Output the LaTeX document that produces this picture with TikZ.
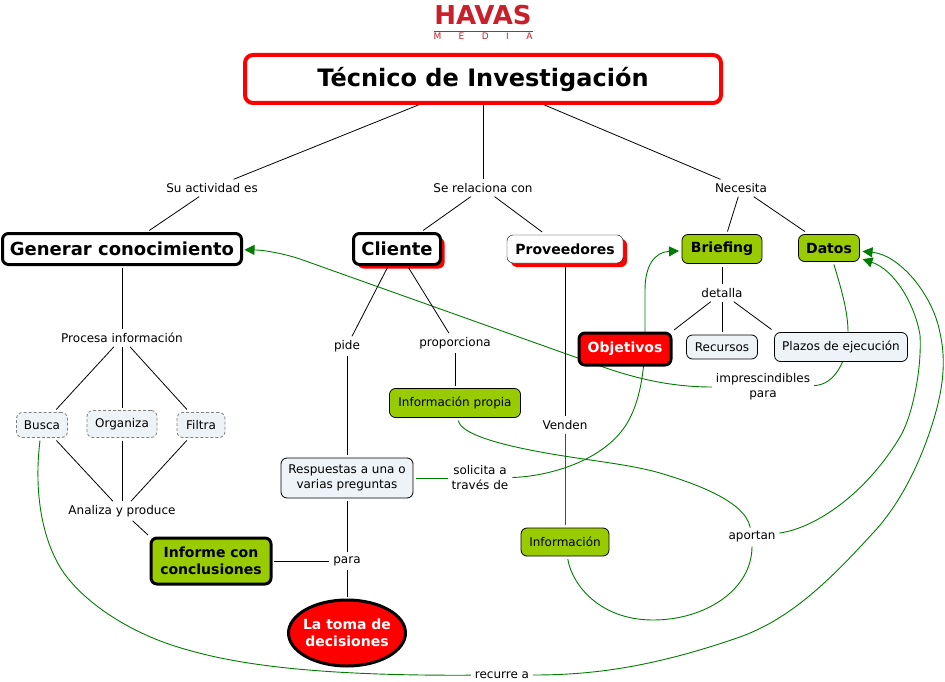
\documentclass[tikz,border=0pt]{standalone}
\usepackage{fontspec}
\setmainfont{DejaVu Sans}
\usetikzlibrary{arrows.meta,shapes.geometric,positioning,shadows,backgrounds}
\definecolor{limefill}{RGB}{153,204,0}
\definecolor{paleblue}{RGB}{238,243,247}
\definecolor{linkgreen}{RGB}{0,125,0}
\definecolor{logored}{RGB}{200,32,42}

\begin{document}
\begin{tikzpicture}[x=1pt, y=-1pt, on grid, >={Triangle[length=10pt,width=10pt]},
    box/.style={rectangle, draw=black, rounded corners=6pt, align=center, inner sep=0pt, outer sep=3pt, font=\fontsize{14}{17}\selectfont\bfseries},
    rootbox/.style={box, draw=red, line width=4pt, rounded corners=8pt, minimum width=476pt, minimum height=48pt, outer sep=2pt, font=\fontsize{24}{28}\selectfont\bfseries},
    heavybox/.style={box, line width=3pt, font=\fontsize{18}{22}\selectfont\bfseries},
    redshadow/.style={drop shadow={fill=red, opacity=1, shadow xshift=4pt, shadow yshift=-4pt}},
    limebox/.style={box, fill=limefill, line width=0.8pt},
    lightbox/.style={box, fill=paleblue, line width=0.8pt, font=\fontsize{12}{15}\selectfont},
    dashbox/.style={lightbox, dash pattern=on 3pt off 2pt, draw=black!50},
    linklabel/.style={inner sep=1pt, outer sep=3pt, align=center, font=\fontsize{12}{15}\selectfont},
    line/.style={draw, line width=0.8pt},
    greenline/.style={draw=linkgreen, line width=0.9pt}]

    \useasboundingbox (0,0) rectangle (945,682);

    % Logo
    \node [text=logored, align=center, inner sep=0pt] (logo) at (483,22) {{\fontsize{26}{24}\selectfont\bfseries HAVAS}\\[-5pt]\rule{99pt}{0.6pt}\\[-4pt]\makebox[99pt][s]{\fontsize{9}{9}\selectfont M\hfil E\hfil D\hfil I\hfil A}};

    % Top Level
    \node [rootbox] (root) at (483,79) {Técnico de Investigación};
    \node [linklabel, below left=109pt and 271pt of root] (suactividad) {Su actividad es};
    \node [linklabel, below=109pt of root] (serelaciona) {Se relaciona con};
    \node [linklabel, below right=109pt and 258pt of root] (necesita) {Necesita};

    % Second Row
    \node [heavybox, minimum width=239pt, minimum height=31pt, below left=61pt and 90pt of suactividad] (generar) {Generar conocimiento};
    \node [heavybox, fill=white, redshadow, minimum width=87pt, minimum height=31pt, below left=61pt and 86pt of serelaciona] (cliente) {Cliente};
    \node [box, fill=white, redshadow, minimum width=116pt, minimum height=28pt, below right=61pt and 82pt of serelaciona] (proveedores) {Proveedores};
    \node [limebox, minimum width=80pt, minimum height=29pt, below left=61pt and 19pt of necesita] (briefing) {Briefing};
    \node [limebox, minimum width=61pt, minimum height=27pt, below right=60pt and 88pt of necesita] (datos) {Datos};

    % Briefing Branch
    \node [linklabel, below=44pt of briefing] (detalla) {detalla};
    \node [box, fill=red, text=white, line width=3pt, minimum width=92pt, minimum height=32pt, below left=56pt and 97pt of detalla] (objetivos) {Objetivos};
    \node [lightbox, minimum width=71pt, minimum height=24pt, below=54pt of detalla] (recursos) {Recursos};
    \node [lightbox, minimum width=133pt, minimum height=29pt, below right=54pt and 119pt of detalla] (plazos) {Plazos de ejecución};
    \node [linklabel, below left=40pt and 78pt of plazos] (imprescindibles) {imprescindibles\\para};

    % Generar Branch
    \node [linklabel, below=89pt of generar] (procesa) {Procesa información};
    \node [dashbox, minimum width=51pt, minimum height=25pt, below left=87pt and 80pt of procesa] (busca) {Busca};
    \node [dashbox, minimum width=70pt, minimum height=27pt, below=86pt of procesa] (organiza) {Organiza};
    \node [dashbox, minimum width=48pt, minimum height=25pt, below right=87pt and 79pt of procesa] (filtra) {Filtra};
    \node [linklabel, below=87pt of organiza] (analiza) {Analiza y produce};
    \node [heavybox, fill=limefill, minimum width=120pt, minimum height=46pt, below right=50pt and 89pt of analiza, font=\fontsize{14}{17}\selectfont\bfseries] (informe) {Informe con\\conclusiones};

    % Cliente Branch
    \node [linklabel, right=136pt of informe] (para) {para};
    \node [ellipse, draw=black, fill=red, text=white, line width=3pt, align=center, inner ysep=0pt, inner xsep=-4pt, outer sep=3pt, minimum width=117pt, minimum height=66pt, below=72pt of para, font=\fontsize{14}{17}\selectfont\bfseries] (toma) {La toma de\\decisiones};
    \node [lightbox, minimum width=132pt, minimum height=40pt, above=83pt of para] (respuestas) {Respuestas a una o\\varias preguntas};
    \node [linklabel, above=132pt of respuestas] (pide) {pide};
    \node [linklabel, below right=94pt and 58pt of cliente] (proporciona) {proporciona};
    \node [limebox, minimum width=131pt, minimum height=29pt, below=60pt of proporciona, font=\fontsize{12}{15}\selectfont] (infopropia) {Información propia};
    \node [linklabel, right=133pt of respuestas] (solicita) {solicita a\\través de};

    % Proveedores Branch
    \node [linklabel, below=176pt of proveedores] (venden) {Venden};
    \node [limebox, minimum width=88pt, minimum height=28pt, below=117pt of venden, font=\fontsize{12}{15}\selectfont] (informacion) {Información};
    \node [linklabel, below left=190pt and 89pt of plazos] (aportan) {aportan};
    \node [linklabel, below right=114pt and 155pt of para] (recurre) {recurre a};

    % Paths
    \path [line] (root) -- (suactividad);
    \path [line] (root) -- (serelaciona);
    \path [line] (root) -- (necesita);
    \path [line] (suactividad) -- (generar);
    \path [line] (serelaciona) -- (cliente);
    \path [line] (serelaciona) -- (proveedores);
    \path [line] (necesita) -- (briefing);
    \path [line] (necesita) -- (datos);
    \path [line] (briefing) -- (detalla);
    \path [line] (detalla) -- (objetivos.north east);
    \path [line] (detalla) -- (recursos);
    \path [line] (detalla) -- (plazos.north west);
    \path [line] (generar) -- (procesa);
    \path [line] (procesa) -- (busca);
    \path [line] (procesa) -- (organiza);
    \path [line] (procesa) -- (filtra);
    \path [line] (busca) -- (analiza);
    \path [line] (organiza) -- (analiza);
    \path [line] (filtra) -- (analiza);
    \path [line] (analiza) -- (informe.north west);
    \path [line] (cliente) -- (pide);
    \path [line] (cliente) -- (proporciona);
    \path [line] (pide) -- (respuestas);
    \path [line] (proporciona) -- (infopropia);
    \path [line] (respuestas) -- (para);
    \path [line] (informe) -- (para);
    \path [line] (para) -- (toma);
    \path [line] (proveedores) -- (venden);

    % Green Links
    \begin{scope}[on background layer]
    \path [greenline] (venden) -- (informacion);
    \path [greenline] (respuestas) -- (solicita);
    \path [greenline, ->] (solicita) .. controls (540,477) and (600,465) .. (626,425) .. controls (640,403) and (645,370) .. (645,335) -- (645,290) .. controls (645,265) and (655,252) .. (briefing);
    \path [greenline] (datos) .. controls (840,285) and (848,310) .. (848,332) .. controls (848,360) and (835,385) .. (imprescindibles);
    \path [greenline, ->] (imprescindibles) .. controls (670,387) and (635,378) .. (603,367) -- (300,259) .. controls (285,254) and (265,250) .. (generar);
    \path [greenline] (infopropia) .. controls (460,430) and (480,440) .. (530,450) .. controls (580,460) and (625,463) .. (660,473) .. controls (690,482) and (745,500) .. (aportan);
    \path [greenline] (informacion) .. controls (572,585) and (600,620) .. (653,620) .. controls (705,620) and (752,590) .. (aportan);
    \path [greenline, ->] (aportan) .. controls (815,528) and (865,495) .. (900,437) .. controls (912,417) and (922,370) .. (920,335) .. controls (915,305) and (895,270) .. (datos);
    \path [greenline] (busca) .. controls (35,480) and (38,530) .. (60,567) .. controls (78,597) and (125,633) .. (188,650) .. controls (240,665) and (320,676) .. (recurre);
    \path [greenline, ->] (recurre) .. controls (590,675) and (650,668) .. (737,638) .. controls (790,620) and (830,580) .. (873,533) .. controls (905,499) and (925,450) .. (935,415) .. controls (945,380) and (945,355) .. (940,333) .. controls (933,295) and (900,255) .. (datos);
    \end{scope}

\end{tikzpicture}
\end{document}
